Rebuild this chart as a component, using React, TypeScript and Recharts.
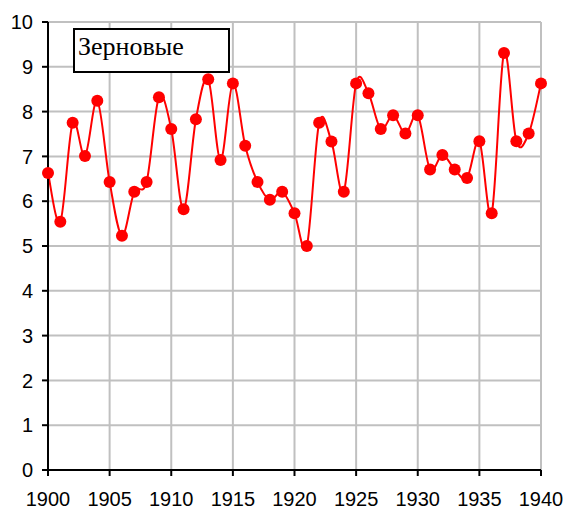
import React from 'react';
import { LineChart, Line, XAxis, YAxis, CartesianGrid } from 'recharts';

const years = [
  1900, 1901, 1902, 1903, 1904, 1905, 1906, 1907, 1908, 1909,
  1910, 1911, 1912, 1913, 1914, 1915, 1916, 1917, 1918, 1919,
  1920, 1921, 1922, 1923, 1924, 1925, 1926, 1927, 1928, 1929,
  1930, 1931, 1932, 1933, 1934, 1935, 1936, 1937, 1938, 1939, 1940,
];
const grain = [
  6.63, 5.54, 7.75, 7.01, 8.24, 6.43, 5.23, 6.21, 6.43, 8.32,
  7.61, 5.82, 7.83, 8.72, 6.92, 8.63, 7.24, 6.43, 6.03, 6.21,
  5.73, 5.0, 7.75, 7.33, 6.21, 8.63, 8.41, 7.61, 7.92, 7.51,
  7.92, 6.71, 7.03, 6.71, 6.52, 7.34, 5.73, 9.31, 7.34, 7.51, 8.63,
];
const xTicks = [1900, 1905, 1910, 1915, 1920, 1925, 1930, 1935, 1940];
const yTicks = [0, 1, 2, 3, 4, 5, 6, 7, 8, 9, 10];
const seriesName = 'Зерновые';

const data = years.map((year, i) => ({ year, value: grain[i] }));

// Excel-like smoothed line (Catmull-Rom)
const smoothCurve = (context: any) => {
  let pts: number[][] = [];
  return {
    areaStart() {},
    areaEnd() {},
    lineStart() { pts = []; },
    point(x: number, y: number) { pts.push([+x, +y]); },
    lineEnd() {
      if (!pts.length) return;
      context.moveTo(pts[0][0], pts[0][1]);
      for (let i = 0; i < pts.length - 1; i++) {
        const p0 = pts[Math.max(i - 1, 0)];
        const p1 = pts[i];
        const p2 = pts[i + 1];
        const p3 = pts[Math.min(i + 2, pts.length - 1)];
        context.bezierCurveTo(
          p1[0] + (p2[0] - p0[0]) / 6, p1[1] + (p2[1] - p0[1]) / 6,
          p2[0] - (p3[0] - p1[0]) / 6, p2[1] - (p3[1] - p1[1]) / 6,
          p2[0], p2[1],
        );
      }
    },
  };
};

const tickStyle = { fontFamily: 'Liberation Sans, Arial', fontSize: 20, fill: '#000' };

export default function App() {
  return (
    <div style={{ position: 'absolute', left: 0, top: 0, width: 566, height: 511, background: '#fff' }}>
      <LineChart width={566} height={511} data={data} margin={{ top: 22, right: 25, left: 8, bottom: 11 }}>
        <CartesianGrid stroke="#c0c0c0" strokeWidth={2} horizontalValues={yTicks} verticalValues={xTicks} />
        <XAxis
          dataKey="year"
          type="number"
          domain={[1900, 1940]}
          ticks={xTicks}
          height={30}
          tick={tickStyle}
          tickSize={6}
          tickMargin={16}
          stroke="#000"
          strokeWidth={2}
        />
        <YAxis
          type="number"
          domain={[0, 10]}
          ticks={yTicks}
          width={40}
          tick={tickStyle}
          tickSize={6}
          tickMargin={9}
          stroke="#000"
          strokeWidth={2}
        />
        <Line
          dataKey="value"
          type={smoothCurve as any}
          stroke="#ff0000"
          strokeWidth={2}
          dot={{ r: 6, fill: '#ff0000', stroke: 'none' }}
          isAnimationActive={false}
        />
      </LineChart>
      <div
        style={{
          position: 'absolute',
          left: 73,
          top: 28,
          width: 150,
          height: 39,
          border: '2px solid #000',
          background: '#fff',
          fontFamily: 'Liberation Serif, Times New Roman, serif',
          fontSize: 26,
          lineHeight: 'normal',
          paddingLeft: 3,
          paddingTop: 2,
          boxSizing: 'content-box',
          whiteSpace: 'nowrap',
        }}
      >
        {seriesName}
      </div>
    </div>
  );
}
